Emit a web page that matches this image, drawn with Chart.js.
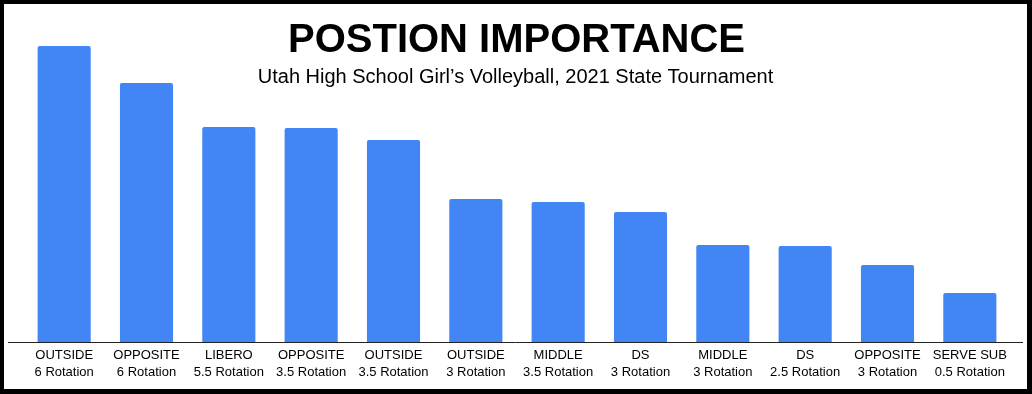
<!DOCTYPE html>
<html>
<head>
<meta charset="utf-8">
<script src="https://cdn.jsdelivr.net/npm/chart.js@4"></script>
<style>
  html, body { margin: 0; padding: 0; background: #fff; }
  #frame {
    width: 1032px; height: 394px; box-sizing: border-box;
    border-style: solid; border-color: #000;
    border-width: 4px 5px 5px 4px;
    position: relative;
  }
  #wrap { width: 1023px; height: 385px; }
</style>
</head>
<body>
<div id="frame"><div id="wrap"><canvas id="posChart"></canvas></div></div>
<script>
const positions = ['OUTSIDE', 'OPPOSITE', 'LIBERO', 'OPPOSITE', 'OUTSIDE', 'OUTSIDE', 'MIDDLE', 'DS', 'MIDDLE', 'DS', 'OPPOSITE', 'SERVE SUB'];
const rotations = ['6 Rotation', '6 Rotation', '5.5 Rotation', '3.5 Rotation', '3.5 Rotation', '3 Rotation', '3.5 Rotation', '3 Rotation', '3 Rotation', '2.5 Rotation', '3 Rotation', '0.5 Rotation'];
const importance = [29.6, 25.9, 21.5, 21.4, 20.2, 14.3, 14.0, 13.0, 9.7, 9.6, 7.7, 4.9];

const titleText = 'POSTION IMPORTANCE';
const subtitleText = 'Utah High School Girl\u2019s Volleyball, 2021 State Tournament';

const labels = positions.map((p, i) => [p, rotations[i]]);

// title sits over the plot area, beside the tall bars, so draw it by hand
const headerPlugin = {
    id: 'header',
    afterDraw(chart) {
        const ctx = chart.ctx;
        const cx = chart.width / 2 + 1;
        ctx.save();
        ctx.fillStyle = '#000';
        ctx.textAlign = 'center';
        ctx.textBaseline = 'alphabetic';
        ctx.font = 'bold 40px "Liberation Sans", Arial, sans-serif';
        ctx.fillText(titleText, cx, 48);
        ctx.font = '20px "Liberation Sans", Arial, sans-serif';
        ctx.fillText(subtitleText, cx - 1, 79);
        // baseline runs almost the full width
        const y = chart.chartArea.bottom + 0.5;
        ctx.strokeStyle = '#222';
        ctx.lineWidth = 1;
        ctx.beginPath();
        ctx.moveTo(4, y);
        ctx.lineTo(chart.width - 4, y);
        ctx.stroke();
        ctx.restore();
    }
};

new Chart(document.getElementById('posChart'), {
    type: 'bar',
    data: {
        labels: labels,
        datasets: [{
            data: importance,
            backgroundColor: '#4285F4',
            borderRadius: 2,
            borderSkipped: 'start',
            barPercentage: 0.645,
            categoryPercentage: 1
        }]
    },
    options: {
        responsive: true,
        maintainAspectRatio: false,
        animation: false,
        layout: { padding: { top: 38, left: 19, right: 16, bottom: 0 } },
        plugins: {
            legend: { display: false },
            tooltip: { enabled: false }
        },
        scales: {
            x: {
                grid: { display: false },
                border: { display: false },
                afterFit(scale) { scale.height = 47; },
                ticks: {
                    color: '#000',
                    padding: -3,
                    maxRotation: 0,
                    autoSkip: false,
                    font: { family: '"Liberation Sans", Arial, sans-serif', size: 13, lineHeight: 1.32 }
                }
            },
            y: {
                display: false,
                min: 0,
                max: 30
            }
        }
    },
    plugins: [headerPlugin]
});
</script>
</body>
</html>
